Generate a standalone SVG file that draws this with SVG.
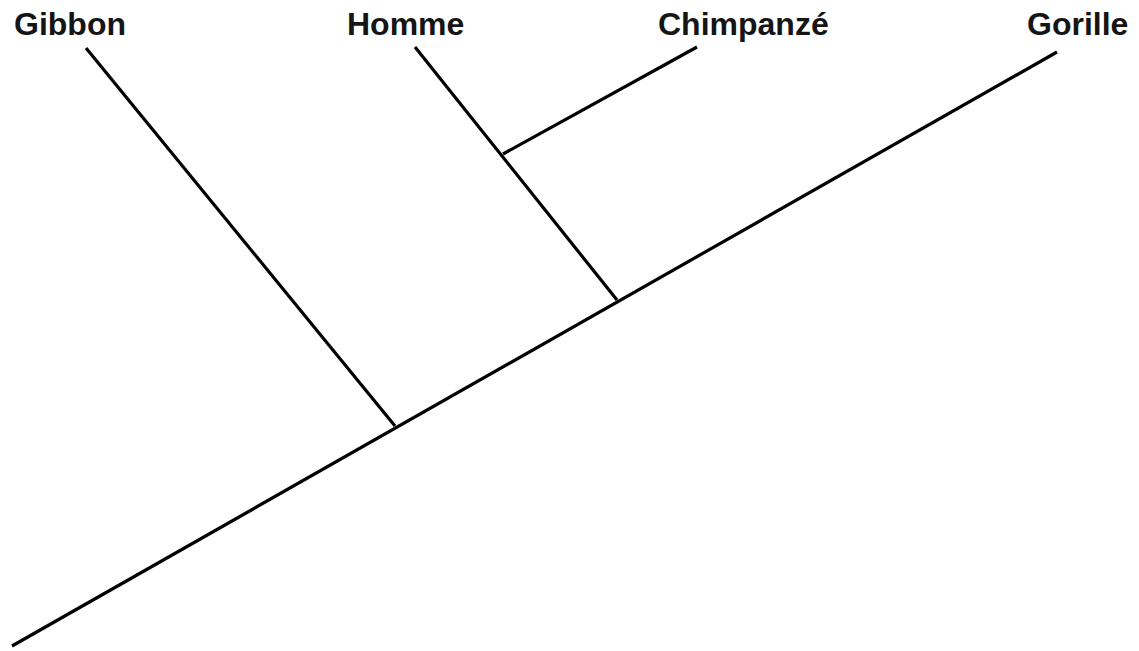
<svg xmlns="http://www.w3.org/2000/svg" width="1139" height="651" viewBox="0 0 1139 651">
<style>
.lbl{font-family:"Liberation Sans",Arial,sans-serif;font-weight:bold;font-size:32px;fill:#151515}
.br{stroke:#000;stroke-width:3.2;fill:none;stroke-linecap:butt}
</style>
<rect width="1139" height="651" fill="#fff"/>
<g id="connectors">
<line class="br" x1="12" y1="646" x2="1057" y2="52"/>
<line class="br" x1="86" y1="48" x2="395" y2="426"/>
<line class="br" x1="415" y1="47" x2="617" y2="300"/>
<line class="br" x1="503" y1="154" x2="697" y2="47"/>
</g>
<g id="node-gibbon"><text class="lbl" x="14" y="35">Gibbon</text></g>
<g id="node-homme"><text class="lbl" x="347" y="35">Homme</text></g>
<g id="node-chimpanze"><text class="lbl" x="658" y="35">Chimpanzé</text></g>
<g id="node-gorille"><text class="lbl" x="1027" y="35">Gorille</text></g>
</svg>
